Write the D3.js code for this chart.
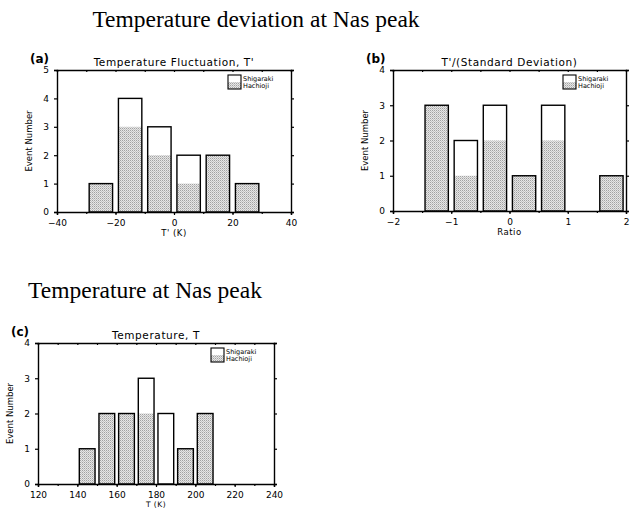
<!DOCTYPE html>
<html>
<head>
<meta charset="utf-8">
<script src="https://cdn.jsdelivr.net/npm/d3@7"></script>
<style>
  body { margin: 0; background: #fff; }
  svg { display: block; }
  .ax text { font-family: "DejaVu Sans", sans-serif; font-size: 9px; fill: #000; }
  .lbl { font-family: "DejaVu Sans", sans-serif; fill: #000; }
  .big { font-family: "Liberation Serif", "Times New Roman", serif; fill: #000; }
</style>
</head>
<body>
<svg id="chart" width="630" height="508"></svg>
<script>
// Event counts per bin; Hachioji is stacked at the bottom, Shigaraki on top.
const seriesNames = ["Hachioji", "Shigaraki"];

// (a) temperature fluctuation T' (K), 10 K bins
const binsA = [-25, -15, -5, 5, 15, 25];
const hachiojiA = [1, 3, 2, 1, 2, 1];
const shigarakiA = [0, 1, 1, 1, 0, 0];
const xTicksA = [-40, -20, 0, 20, 40];

// (b) T' divided by standard deviation, 0.5 bins
const binsB = [-1.25, -0.75, -0.25, 0.25, 0.75, 1.75];
const hachiojiB = [3, 1, 2, 1, 2, 1];
const shigarakiB = [0, 1, 1, 0, 1, 0];
const xTicksB = [-2, -1, 0, 1, 2];

// (c) temperature T (K), 10 K bins
const binsC = [145, 155, 165, 175, 185, 195, 205];
const hachiojiC = [1, 2, 2, 2, 0, 1, 2];
const shigarakiC = [0, 0, 0, 1, 2, 0, 0];
const xTicksC = [120, 140, 160, 180, 200, 220, 240];

const svg = d3.select("#chart");

// stipple used for the Hachioji part of each bar
const defs = svg.append("defs");
const pat = defs.append("pattern").attr("id", "stip")
  .attr("width", 2).attr("height", 2).attr("patternUnits", "userSpaceOnUse");
pat.append("rect").attr("width", 2).attr("height", 2).attr("fill", "#e6e6e6");
pat.append("rect").attr("width", 1).attr("height", 1).attr("fill", "#a2a2a2");
pat.append("rect").attr("x", 1).attr("y", 1).attr("width", 1).attr("height", 1).attr("fill", "#c4c4c4");

// section headings
svg.append("text").attr("class", "big").attr("x", 256).attr("y", 27)
  .attr("text-anchor", "middle").style("font-size", "23.5px")
  .text("Temperature deviation at Nas peak");
svg.append("text").attr("class", "big").attr("x", 145).attr("y", 298)
  .attr("text-anchor", "middle").style("font-size", "23.5px")
  .text("Temperature at Nas peak");

function panel(o) {
  const x = d3.scaleLinear().domain(o.xDomain).range(o.xRange);
  const y = d3.scaleLinear().domain([0, o.yMax]).range(o.yRange);
  const g = svg.append("g");

  const rows = o.bins.map((b, i) => ({ bin: b, Hachioji: o.hachioji[i], Shigaraki: o.shigaraki[i] }));
  const stack = d3.stack().keys(seriesNames)(rows);
  const half = o.barWidth / 2;

  // stippled Hachioji part
  g.selectAll("rect.h").data(stack[0]).join("rect").attr("class", "h")
    .attr("x", d => x(d.data.bin - half))
    .attr("width", d => x(d.data.bin + half) - x(d.data.bin - half))
    .attr("y", d => y(d[1]))
    .attr("height", d => y(d[0]) - y(d[1]))
    .attr("fill", "url(#stip)");
  // outline around the whole stacked bar
  g.selectAll("rect.o").data(stack[1]).join("rect").attr("class", "o")
    .attr("x", d => x(d.data.bin - half))
    .attr("width", d => x(d.data.bin + half) - x(d.data.bin - half))
    .attr("y", d => y(d[1]))
    .attr("height", d => y(0) - y(d[1]))
    .attr("fill", "none").attr("stroke", "#000").attr("stroke-width", 1.4);

  const fmt = d => (d < 0 ? "\u2212" + Math.abs(d) : String(d));
  const minor = d3.range(o.xDomain[0], o.xDomain[1] + o.minorStep / 2, o.minorStep);

  // bottom axis
  const bx = g.append("g").attr("class", "ax").attr("transform", `translate(0,${o.yRange[0]})`)
    .call(d3.axisBottom(x).tickValues(o.xTicks).tickFormat(fmt).tickSize(3).tickPadding(3));
  bx.selectAll("text").attr("dy", "0.85em");
  g.append("g").attr("class", "ax").attr("transform", `translate(0,${o.yRange[0]})`)
    .call(d3.axisBottom(x).tickValues(minor).tickFormat("").tickSize(2))
    .select(".domain").remove();
  // top axis
  g.append("g").attr("class", "ax").attr("transform", `translate(0,${o.yRange[1]})`)
    .call(d3.axisBottom(x).tickValues(minor).tickFormat("").tickSize(2));
  // left axis
  g.append("g").attr("class", "ax").attr("transform", `translate(${o.xRange[0]},0)`)
    .call(d3.axisLeft(y).ticks(o.yMax).tickSize(3).tickPadding(5));
  // right axis
  g.append("g").attr("class", "ax").attr("transform", `translate(${o.xRange[1]},0)`)
    .call(d3.axisRight(y).ticks(o.yMax).tickFormat("").tickSize(3));
  g.selectAll(".domain").attr("stroke-width", 1.4);
  g.selectAll(".tick line").attr("stroke-width", 1.2);

  const cx = (o.xRange[0] + o.xRange[1]) / 2;
  // panel letter and title
  g.append("text").attr("class", "lbl").attr("x", o.xRange[0] - 27).attr("y", o.yRange[1] - 7)
    .style("font-size", "12px").style("font-weight", "bold").text(o.letter);
  g.append("text").attr("class", "lbl").attr("x", cx).attr("y", o.yRange[1] - 4)
    .attr("text-anchor", "middle").style("font-size", "10.5px").style("letter-spacing", "0.6px")
    .text(o.title);
  // axis titles
  g.append("text").attr("class", "lbl").attr("x", cx).attr("y", o.yRange[0] + o.xLabelDy)
    .attr("text-anchor", "middle").style("font-size", o.xLabelSize).style("letter-spacing", "0.5px")
    .text(o.xLabel);
  g.append("text").attr("class", "lbl")
    .attr("transform", `translate(${o.xRange[0] - 25},${(o.yRange[0] + o.yRange[1]) / 2}) rotate(-90)`)
    .attr("text-anchor", "middle").style("font-size", "8.5px").text("Event Number");

  // legend
  const lg = g.append("g").attr("transform", `translate(${o.xRange[1] - 63},${o.yRange[1] + 5})`);
  lg.append("rect").attr("x", 0).attr("y", 7).attr("width", 13).attr("height", 7).attr("fill", "url(#stip)");
  lg.append("rect").attr("x", 0).attr("y", 0).attr("width", 13).attr("height", 14)
    .attr("fill", "none").attr("stroke", "#000").attr("stroke-width", 1.1);
  lg.append("text").attr("class", "lbl").attr("x", 15).attr("y", 6).style("font-size", "6.5px").text("Shigaraki");
  lg.append("text").attr("class", "lbl").attr("x", 15).attr("y", 13).style("font-size", "6.5px").text("Hachioji");
}

panel({
  letter: "(a)", title: "Temperature Fluctuation, T'", xLabel: "T' (K)", xLabelDy: 24, xLabelSize: "8.5px",
  bins: binsA, hachioji: hachiojiA, shigaraki: shigarakiA, xTicks: xTicksA,
  xDomain: [-40, 40], xRange: [57, 291], yMax: 5, yRange: [212, 70], barWidth: 8, minorStep: 10
});
panel({
  letter: "(b)", title: "T'/(Standard Deviation)", xLabel: "Ratio", xLabelDy: 24, xLabelSize: "8.5px",
  bins: binsB, hachioji: hachiojiB, shigaraki: shigarakiB, xTicks: xTicksB,
  xDomain: [-2, 2], xRange: [393, 626], yMax: 4, yRange: [211, 70], barWidth: 0.4, minorStep: 0.5
});
panel({
  letter: "(c)", title: "Temperature, T", xLabel: "T (K)", xLabelDy: 22.5, xLabelSize: "7.5px",
  bins: binsC, hachioji: hachiojiC, shigaraki: shigarakiC, xTicks: xTicksC,
  xDomain: [120, 240], xRange: [38, 274], yMax: 4, yRange: [484, 343], barWidth: 8, minorStep: 10
});
</script>
</body>
</html>
